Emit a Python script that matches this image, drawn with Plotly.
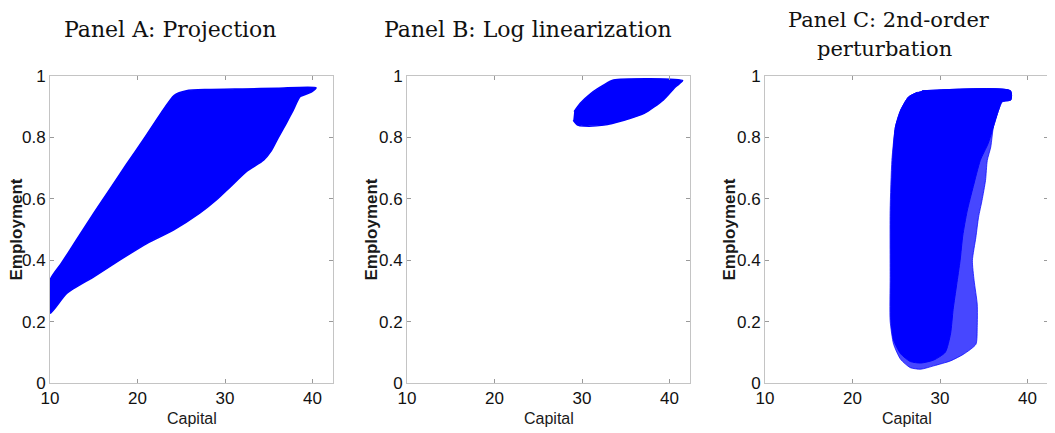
import plotly.graph_objects as go

# ---------------- data (outline of each simulated cloud) ----------------
panel_titles = ["Panel A: Projection", "Panel B: Log linearization", "Panel C: 2nd-order", "perturbation"]
x_tick_vals = [10, 20, 30, 40]
x_tick_text = ["10", "20", "30", "40"]
y_tick_vals = [0, 0.2, 0.4, 0.6, 0.8, 1]
y_tick_text = ["0", "0.2", "0.4", "0.6", "0.8", "1"]

A_capital = [10, 10, 11.3, 13.0, 15.0, 16.8, 18.7, 20.8, 22.7, 24.2, 25.6, 28.0, 32.0, 36.0,
             40.4, 39.9, 38.6, 37.8, 37.0, 36.1, 35.3, 34.4, 32.5, 30.6, 29.0, 27.1, 24.1,
             21.1, 18.0, 15.0, 11.9, 10]
A_employment = [0.227, 0.335, 0.39, 0.465, 0.553, 0.630, 0.711, 0.798, 0.88, 0.937, 0.952,
                0.956, 0.958, 0.96, 0.962, 0.948, 0.933, 0.889, 0.846, 0.800, 0.757, 0.726,
                0.690, 0.639, 0.596, 0.553, 0.498, 0.455, 0.401, 0.346, 0.292, 0.227]

B_capital = [29.0, 29.5, 30.2, 32.5, 34.8, 37.1, 39.3, 40.7, 41.5, 33.6, 32.5, 31.0, 29.8, 29.1]
B_employment = [0.856, 0.840, 0.837, 0.840, 0.856, 0.878, 0.922, 0.965, 0.985, 0.987, 0.971,
                0.943, 0.911, 0.884]

C_capital = [27.96, 38.06, 38.1, 37.1, 36.7, 36.1, 35.8, 35.4, 35.2, 34.8, 34.4, 34.1, 33.7,
             33.9, 34.25, 34.25, 34.1, 32.7, 31.2, 29.3, 27.8, 26.6, 25.5, 24.7, 24.3, 24.3,
             24.3, 24.5, 24.9, 25.5, 26.4, 27.4]
C_employment = [0.952, 0.952, 0.922, 0.916, 0.889, 0.834, 0.769, 0.725, 0.660, 0.595, 0.540,
                0.475, 0.399, 0.333, 0.257, 0.181, 0.126, 0.094, 0.072, 0.056, 0.045, 0.050,
                0.077, 0.126, 0.203, 0.344, 0.562, 0.725, 0.834, 0.889, 0.932, 0.947]

C_core_capital = [27.96, 38.06, 38.1, 37.1, 36.7, 36.1, 35.5, 34.6, 33.8, 33.1, 32.6, 32.3, 31.9,
                  31.5, 31.2, 30.6, 29.3, 27.8, 26.6, 25.5, 24.7, 24.4, 24.4, 24.4, 24.6, 24.9,
                  25.5, 26.4, 27.4]
C_core_employment = [0.952, 0.952, 0.922, 0.916, 0.889, 0.834, 0.78, 0.725, 0.64, 0.56, 0.48,
                     0.40, 0.32, 0.24, 0.16, 0.10, 0.075, 0.065, 0.07, 0.095, 0.14, 0.203, 0.344,
                     0.562, 0.725, 0.834, 0.889, 0.932, 0.947]

# ---------------- figure ----------------
OFF = 8                      # page body margin
W, H = 1055 - OFF, 433 - OFF
BLUE = "#0000ff"
fig = go.Figure()

def px_x(sx):
    return (sx - OFF) / W

def px_y(sy):
    return (H - (sy - OFF)) / H

def blob(x, y, xa, ya, fill, line_w=1.0):
    fig.add_trace(go.Scatter(x=x, y=y, xaxis=xa, yaxis=ya, mode="lines", fill="toself",
                             fillcolor=fill, line=dict(color=fill, width=line_w, shape="spline",
                                                       smoothing=0.6),
                             hoverinfo="skip", showlegend=False))

blob(A_capital, A_employment, "x", "y", BLUE, 1.5)
blob(B_capital, B_employment, "x2", "y2", BLUE, 1.5)
blob(C_capital, C_employment, "x3", "y3", "rgba(10,10,255,0.75)", 1.0)
blob(C_core_capital, C_core_employment, "x3", "y3", BLUE, 1.0)

left_px = [50, 407, 765]
ylab_offset = [34, 36, 36]
plot_w = 283
top_px, bot_px = 76, 383
ydom = [px_y(bot_px), px_y(top_px)]

tick_font = dict(family="Liberation Sans, Arial, sans-serif", size=17, color="#111111")
axis_common = dict(showline=True, linecolor="#c4c4c4", linewidth=1, mirror="ticks",
                   ticks="inside", ticklen=4, tickcolor="#9a9a9a", showgrid=False,
                   zeroline=False, tickfont=tick_font, automargin=False)

layout = dict(width=W, height=H, margin=dict(l=0, r=0, t=0, b=0, autoexpand=False),
              paper_bgcolor="white", plot_bgcolor="white", showlegend=False)

annotations = []
for i in range(3):
    sfx = "" if i == 0 else str(i + 1)
    layout["xaxis" + sfx] = dict(domain=[px_x(left_px[i]), px_x(left_px[i] + plot_w)],
                                 range=[10, 42.34], anchor="y" + sfx,
                                 tickvals=x_tick_vals, ticktext=x_tick_text,
                                 ticklabelstandoff=0, **axis_common)
    layout["yaxis" + sfx] = dict(domain=ydom, range=[0, 1], anchor="x" + sfx,
                                 tickvals=y_tick_vals, ticktext=y_tick_text,
                                 ticklabelstandoff=0, **axis_common)
    cx = px_x(left_px[i] + plot_w / 2)
    annotations.append(dict(text="Capital", x=cx, y=px_y(418), xref="paper", yref="paper",
                            showarrow=False, xanchor="center", yanchor="middle",
                            font=dict(family="Liberation Sans, Arial, sans-serif", size=16,
                                      color="#1a1a1a")))
    annotations.append(dict(text="<b>Employment</b>", x=px_x(left_px[i] - ylab_offset[i]),
                            y=px_y(229.5), xref="paper", yref="paper", textangle=-90,
                            showarrow=False, xanchor="center", yanchor="middle",
                            font=dict(family="Liberation Sans, Arial, sans-serif", size=17,
                                      color="#1a1a1a")))

# panel titles
title_pos = [(170, 29), (527.5, 29), (888.5, 20), (884, 49)]
title_size = [22, 22, 21, 21]
for t, (sx, sy), fs in zip(panel_titles, title_pos, title_size):
    annotations.append(dict(text=t, x=px_x(sx), y=px_y(sy), xref="paper", yref="paper",
                            showarrow=False, xanchor="center", yanchor="middle",
                            font=dict(family="DejaVu Serif, serif", size=fs, color="#111111")))

layout["annotations"] = annotations
fig.update_layout(**layout)
fig.write_html("out.html")
